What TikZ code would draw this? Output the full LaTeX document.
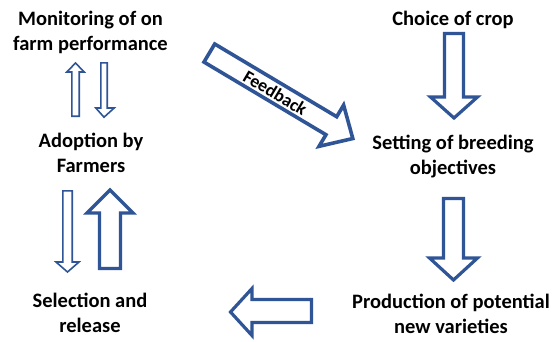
\documentclass[tikz,border=0pt]{standalone}
\usepackage{fontspec}
\setmainfont{Carlito}
\definecolor{arrowblue}{RGB}{47,85,151}
\begin{document}
\begin{tikzpicture}[x=1pt,y=-1pt,
  lbl/.style={font=\fontsize{20.5}{25}\selectfont\bfseries, align=center, inner sep=0pt, text=black},
  blk/.style={draw=arrowblue, line width=3.2pt, fill=white, line join=miter},
  thinblk/.style={draw=arrowblue, line width=1.6pt, fill=white, line join=miter}]
\useasboundingbox[fill=white] (0,0) rectangle (557,341);

% text nodes
\node[lbl] (monitor) at (90.5,32) {Monitoring of on\\farm performance};
\node[lbl] (crop) at (453,20) {Choice of crop};
\node[lbl] (setting) at (453,157) {Setting of breeding\\objectives};
\node[lbl] (adopt) at (91,153) {Adoption by\\Farmers};
\node[lbl] (select) at (90,313) {Selection and\\release};
\node[lbl] (produce) at (451,314) {Production of potential\\new varieties};

% Choice -> Setting
\draw[blk] (444.5,33.5) -- (463.5,33.5) -- (463.5,97) -- (477.5,97) -- (454,118) -- (430.5,97) -- (444.5,97) -- cycle;
% Setting -> Production
\draw[blk] (443.5,198.5) -- (463.5,198.5) -- (463.5,258) -- (477.5,258) -- (453.5,280) -- (429.5,258) -- (443.5,258) -- cycle;
% Production -> Selection (left)
\draw[blk] (311.5,299.5) -- (252,299.5) -- (252,288.5) -- (230.5,312) -- (252,335.5) -- (252,322.5) -- (311.5,322.5) -- cycle;
% Selection -> Adoption (thick up)
\draw[blk] (99.5,268.5) -- (120.5,268.5) -- (120.5,213) -- (133,213) -- (110,190) -- (87,213) -- (99.5,213) -- cycle;
% Adoption -> Selection (thin down)
\draw[thinblk] (62.8,190.8) -- (72.2,190.8) -- (72.2,262) -- (79,262) -- (67.5,272) -- (56,262) -- (62.8,262) -- cycle;
% Adoption -> Monitoring (thin up)
\draw[thinblk] (71.8,116.2) -- (79.2,116.2) -- (79.2,72) -- (84.2,72) -- (75.5,63) -- (66.8,72) -- (71.8,72) -- cycle;
% Monitoring -> Adoption (thin down)
\draw[thinblk] (100.8,62.8) -- (107.2,62.8) -- (107.2,108) -- (114.2,108) -- (104,117.2) -- (95.8,108) -- (100.8,108) -- cycle;

% Feedback arrow
\begin{scope}[shift={(208.5,52.5)}, rotate=-30.8]
  \draw[blk, line width=3.6pt] (1,-10.5) -- (143,-10.5) -- (143,-24) -- (168,0) -- (143,24) -- (143,10.5) -- (1,10.5) -- cycle;
  \node[font=\fontsize{18}{21}\selectfont\bfseries, inner sep=0pt, transform shape] (feedback) at (78,0.5) {Feedback};
\end{scope}
\end{tikzpicture}
\end{document}
